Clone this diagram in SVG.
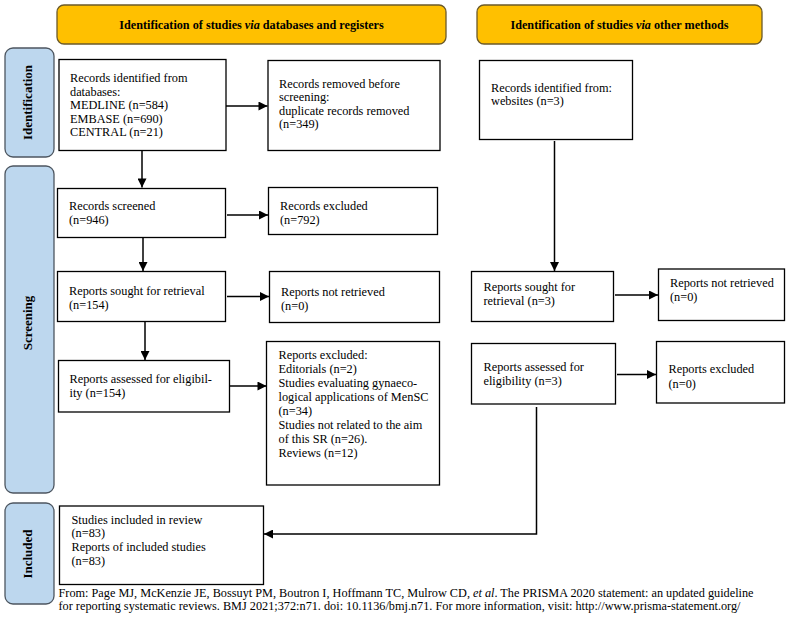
<svg xmlns="http://www.w3.org/2000/svg" width="789" height="622" viewBox="0 0 789 622">
<defs>
<style>
text{font-family:"Liberation Serif","Times New Roman",serif;font-size:12.3px;fill:#000}
.hdr{fill:#FFC000;stroke:#6b5a2a;stroke-width:1.3}
.side{fill:#BDD7EE;stroke:#4d5660;stroke-width:1.3}
.box{fill:#fff;stroke:#000;stroke-width:1.3}
.ht{font-weight:bold;font-size:12.2px;text-anchor:middle}
.st{font-weight:bold;font-size:13px;text-anchor:middle}
.ft{font-size:12.25px}
.conn line,.conn polyline{stroke:#000;stroke-width:1.5;fill:none}
</style>
<marker id="arr" viewBox="0 0 10 10" refX="10" refY="5" markerWidth="10" markerHeight="9" markerUnits="userSpaceOnUse" orient="auto">
<path d="M0,0 L10,5 L0,10 z" fill="#000"/>
</marker>
</defs>
<rect width="789" height="622" fill="#fff"/>

<g id="header-db"><rect class="hdr" x="57" y="5" width="389" height="39" rx="7"/>
<text class="ht" x="251.5" y="28.5">Identification of studies <tspan font-style="italic">via</tspan> databases and registers</text></g>
<g id="header-other"><rect class="hdr" x="477" y="5" width="285" height="39" rx="7"/>
<text class="ht" x="619.5" y="28.5">Identification of studies <tspan font-style="italic">via</tspan> other methods</text></g>

<g id="label-identification"><rect class="side" x="5" y="48" width="49" height="109" rx="8"/>
<text class="st" transform="translate(31.5,102.5) rotate(-90)">Identification</text></g>
<g id="label-screening"><rect class="side" x="5" y="166" width="49" height="327" rx="8"/>
<text class="st" transform="translate(31.5,323) rotate(-90)">Screening</text></g>
<g id="label-included"><rect class="side" x="5" y="503" width="49" height="101" rx="8"/>
<text class="st" transform="translate(31.5,554) rotate(-90)">Included</text></g>

<g id="records-identified"><rect class="box" x="59" y="59.5" width="167" height="91"/>
<text x="70" y="82">Records identified from</text>
<text x="70" y="95.5">databases:</text>
<text x="70" y="109">MEDLINE (n=584)</text>
<text x="70" y="122.5">EMBASE (n=690)</text>
<text x="70" y="136">CENTRAL (n=21)</text></g>

<g id="records-removed"><rect class="box" x="268" y="60.5" width="172" height="90"/>
<text x="279" y="87.5">Records removed before</text>
<text x="279" y="101">screening:</text>
<text x="279" y="114.5">duplicate records removed</text>
<text x="279" y="128">(n=349)</text></g>

<g id="records-websites"><rect class="box" x="479.5" y="60.5" width="153" height="79"/>
<text x="491" y="91.5">Records identified from:</text>
<text x="491" y="105">websites (n=3)</text></g>

<g id="records-screened"><rect class="box" x="57.5" y="188.5" width="168" height="49"/>
<text x="69" y="210">Records screened</text>
<text x="69" y="224">(n=946)</text></g>

<g id="records-excluded"><rect class="box" x="268.5" y="187.5" width="169" height="47"/>
<text x="280" y="209.5">Records excluded</text>
<text x="280" y="223.5">(n=792)</text></g>

<g id="reports-sought"><rect class="box" x="57.5" y="271.5" width="168" height="50"/>
<text x="69" y="294.5">Reports sought for retrieval</text>
<text x="69" y="308.5">(n=154)</text></g>

<g id="reports-not-retrieved"><rect class="box" x="269.5" y="271.5" width="170" height="51"/>
<text x="281" y="296">Reports not retrieved</text>
<text x="281" y="310">(n=0)</text></g>

<g id="reports-assessed"><rect class="box" x="58.5" y="360.5" width="171" height="51.5"/>
<text x="69.5" y="383">Reports assessed for eligibil-</text>
<text x="69.5" y="397">ity (n=154)</text></g>

<g id="reports-excluded"><rect class="box" x="266.5" y="341.5" width="173" height="143.5"/>
<text x="278.5" y="358.5">Reports excluded:</text>
<text x="278.5" y="372.5">Editorials (n=2)</text>
<text x="278.5" y="386.5">Studies evaluating gynaeco-</text>
<text x="278.5" y="400.5">logical applications of MenSC</text>
<text x="278.5" y="414.5">(n=34)</text>
<text x="278.5" y="428.5">Studies not related to the aim</text>
<text x="278.5" y="442.5">of this SR (n=26).</text>
<text x="278.5" y="456.5">Reviews (n=12)</text></g>

<g id="other-sought"><rect class="box" x="471.5" y="271.5" width="142" height="50"/>
<text x="483.5" y="291">Reports sought for</text>
<text x="483.5" y="305">retrieval (n=3)</text></g>

<g id="other-not-retrieved"><rect class="box" x="658.5" y="269" width="126" height="51.5"/>
<text x="670" y="287">Reports not retrieved</text>
<text x="670" y="300.5">(n=0)</text></g>

<g id="other-assessed"><rect class="box" x="471.5" y="343.5" width="144" height="60.5"/>
<text x="483.5" y="370.5">Reports assessed for</text>
<text x="483.5" y="385">eligibility (n=3)</text></g>

<g id="other-excluded"><rect class="box" x="656.5" y="341.5" width="128" height="61.5"/>
<text x="668.5" y="373">Reports excluded</text>
<text x="668.5" y="387.5">(n=0)</text></g>

<g id="included"><rect class="box" x="59.5" y="506" width="204" height="78.5"/>
<text x="71.5" y="523.5">Studies included in review</text>
<text x="71.5" y="537">(n=83)</text>
<text x="71.5" y="551">Reports of included studies</text>
<text x="71.5" y="564.5">(n=83)</text></g>

<g id="connectors" class="conn">
<line x1="226" y1="106" x2="267.5" y2="106" marker-end="url(#arr)"/>
<line x1="142" y1="151" x2="142" y2="187.5" marker-end="url(#arr)"/>
<line x1="227" y1="215" x2="268" y2="215" marker-end="url(#arr)"/>
<line x1="143" y1="238" x2="143" y2="271" marker-end="url(#arr)"/>
<line x1="227" y1="296.5" x2="269" y2="296.5" marker-end="url(#arr)"/>
<line x1="145" y1="322" x2="145" y2="360" marker-end="url(#arr)"/>
<line x1="230" y1="386" x2="266.5" y2="386" marker-end="url(#arr)"/>
<line x1="554.5" y1="141" x2="554.5" y2="271" marker-end="url(#arr)"/>
<line x1="615" y1="295" x2="658" y2="295" marker-end="url(#arr)"/>
<line x1="617" y1="374.5" x2="656" y2="374.5" marker-end="url(#arr)"/>
<polyline points="536.5,407 536.5,534 264,534" marker-end="url(#arr)"/>
</g>

<g id="footer">
<text class="ft" x="58.5" y="597" textLength="695" lengthAdjust="spacing">From: Page MJ, McKenzie JE, Bossuyt PM, Boutron I, Hoffmann TC, Mulrow CD, <tspan font-style="italic">et al</tspan>. The PRISMA 2020 statement: an updated guideline</text>
<text class="ft" x="58.5" y="610" textLength="682" lengthAdjust="spacing">for reporting systematic reviews. BMJ 2021;372:n71. doi: 10.1136/bmj.n71. For more information, visit: http://www.prisma-statement.org/</text>
</g>
</svg>
